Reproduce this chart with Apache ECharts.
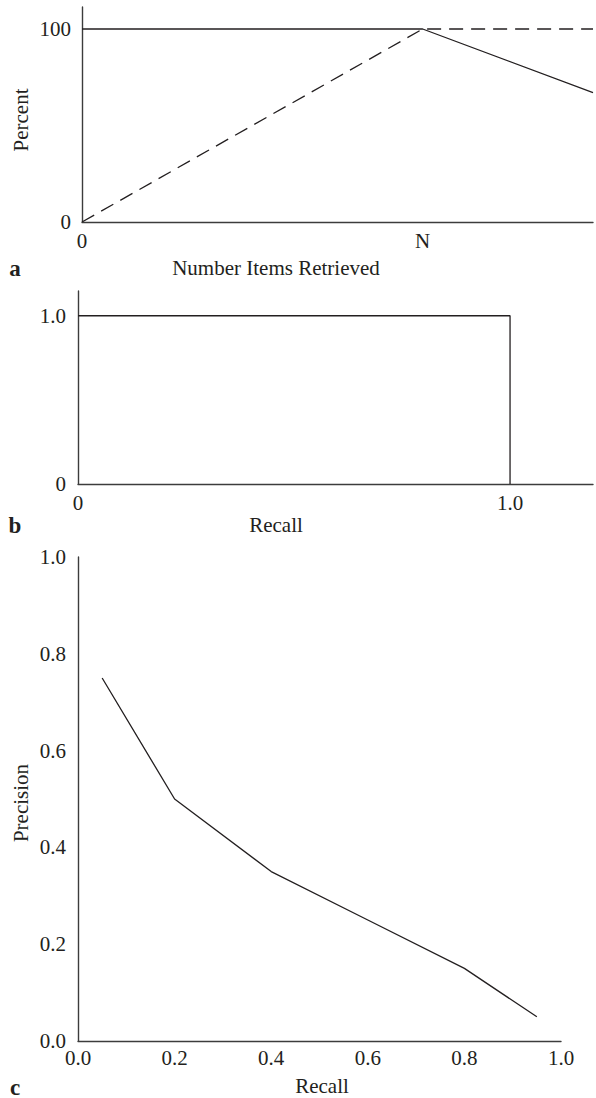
<!DOCTYPE html>
<html>
<head>
<meta charset="utf-8">
<title>Precision / Recall</title>
<script src="https://cdn.jsdelivr.net/npm/echarts@6/dist/echarts.min.js"></script>
<style>
  html, body { margin: 0; padding: 0; background: #fff; }
  #chart { width: 596px; height: 1098px; }
</style>
</head>
<body>
<div id="chart"></div>
<script>
// ---- panel a : percent vs number of items retrieved (N = 1 on the x scale)
const aItems = [0, 1, 1.5]
const aPrecision = [100, 100, 67]
const aRecall = [0, 100, 100]
const aXTickValues = [0, 1]
const aXTickLabels = ['0', 'N']
const aYTickValues = [0, 100]
const aYTickLabels = ['0', '100']

// ---- panel b : ideal precision / recall
const bRecall = [0, 1, 1]
const bPrecision = [1, 1, 0]
const bXTickValues = [0, 1]
const bXTickLabels = ['0', '1.0']
const bYTickValues = [0, 1]
const bYTickLabels = ['0', '1.0']

// ---- panel c : typical precision / recall curve
const cRecall = [0.05, 0.2, 0.4, 0.6, 0.8, 0.95]
const cPrecision = [0.75, 0.5, 0.35, 0.25, 0.15, 0.05]

const FONT = '"Liberation Serif", "Times New Roman", serif'
const INK = '#231f20'
const AXIS = '#3c3c3c'

// only print a label for the listed tick values
function pick(values, labels) {
  return function (v) {
    for (let i = 0; i < values.length; i++) {
      if (Math.abs(v - values[i]) < 1e-6) return labels[i]
    }
    return ''
  }
}

function pairs(xs, ys) {
  return xs.map((x, i) => [x, ys[i]])
}

function axis(gridIndex, min, max, interval, formatter, margin) {
  return {
    type: 'value',
    gridIndex: gridIndex,
    min: min,
    max: max,
    interval: interval,
    axisLine: { show: true, onZero: false, lineStyle: { color: AXIS, width: 1.4 } },
    axisTick: { show: false },
    splitLine: { show: false },
    axisLabel: {
      show: true,
      margin: margin,
      formatter: formatter,
      color: INK,
      fontFamily: FONT,
      fontSize: 21,
      showMinLabel: true,
      showMaxLabel: true,
    },
  }
}

function line(gridIndex, data, dashed) {
  return {
    type: 'line',
    xAxisIndex: gridIndex,
    yAxisIndex: gridIndex,
    data: data,
    symbol: 'none',
    silent: true,
    animation: false,
    lineStyle: { color: INK, width: 1.3, type: dashed ? [14, 8] : 'solid' },
  }
}

function label(text, x, y, opts) {
  opts = opts || {}
  return {
    type: 'text',
    x: x,
    y: y,
    rotation: opts.rotation || 0,
    style: {
      text: text,
      fill: INK,
      font: (opts.bold ? 'bold ' : '') + (opts.size || 21) + 'px ' + FONT,
      align: 'center',
      verticalAlign: 'middle',
    },
  }
}

const chart = echarts.init(document.getElementById('chart'), null, { renderer: 'svg' })

const option = {
  backgroundColor: '#fff',
  animation: false,
  grid: [
    { left: 82, top: 7, width: 514, height: 215 },
    { left: 78, top: 291, width: 518, height: 193 },
    { left: 78, top: 557, width: 483, height: 484 },
  ],
  xAxis: [
    axis(0, 0, 1.5, 1, pick(aXTickValues, aXTickLabels), 8),
    axis(1, 0, 1.192, 1, pick(bXTickValues, bXTickLabels), 8),
    axis(2, 0, 1, 0.2, (v) => v.toFixed(1), 6),
  ],
  yAxis: [
    axis(0, 0, 111.4, 100, pick(aYTickValues, aYTickLabels), 11),
    axis(1, 0, 1.147, 1, pick(bYTickValues, bYTickLabels), 12),
    axis(2, 0, 1, 0.2, (v) => v.toFixed(1), 12),
  ],
  series: [
    line(0, pairs(aItems, aPrecision), false),
    line(0, pairs(aItems, aRecall), true),
    line(1, pairs(bRecall, bPrecision), false),
    line(2, pairs(cRecall, cPrecision), false),
  ],
  graphic: [
    label('Percent', 21, 120, { rotation: Math.PI / 2 }),
    label('a', 15, 268, { bold: true, size: 23 }),
    label('Number Items Retrieved', 276, 268),
    label('b', 15, 525, { bold: true, size: 23 }),
    label('Recall', 276, 525),
    label('Precision', 21, 803, { rotation: Math.PI / 2 }),
    label('c', 15, 1087, { bold: true, size: 23 }),
    label('Recall', 322, 1086),
  ],
}

chart.setOption(option)
</script>
</body>
</html>
